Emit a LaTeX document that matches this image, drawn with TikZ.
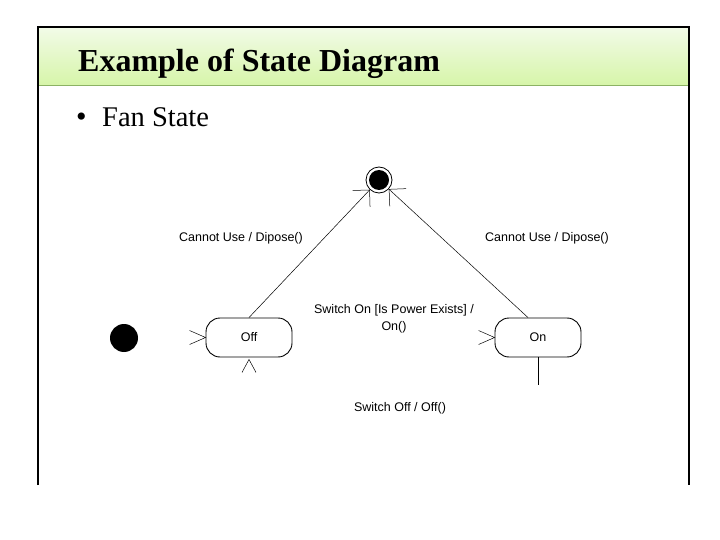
\documentclass[tikz,border=0pt]{standalone}
\usepackage{fontspec}
\setmainfont{Liberation Serif}
\newfontfamily\diagfont{Liberation Sans}
\usepackage{tikz}
\usetikzlibrary{arrows.meta}
\usetikzlibrary{calc}

\definecolor{bandtop}{RGB}{242,251,232}
\definecolor{bandbot}{RGB}{214,245,168}
\definecolor{bandline}{RGB}{140,178,100}

\begin{document}
\begin{tikzpicture}[
  x=1pt, y=-1pt,
  state/.style={draw, rounded corners=14pt, minimum width=86pt, minimum height=39pt,
    line width=0.9pt, font=\diagfont\fontsize{12.5}{14}\selectfont},
  lbl/.style={font=\diagfont\fontsize{12.5}{17}\selectfont, align=center, inner sep=0pt},
  barb/.style={line width=0.5pt, -{Straight Barb[length=12pt, width=24pt, line width=0.5pt]}}
]
  \useasboundingbox (0,0) rectangle (720,540);
  \fill[white] (0,0) rectangle (720,540);

  % slide frame and title band
  \shade[top color=bandtop, bottom color=bandbot] (38,27) rectangle (689,86);
  \draw[bandline, line width=1pt] (38,86) -- (689,86);
  \draw[line width=2.6pt] (38,485) -- (38,27) -- (689,27) -- (689,485);

  \node[anchor=base west, inner sep=0pt, font=\bfseries\fontsize{32}{38}\selectfont] (title) at (78,72) {Example of State Diagram};
  \node[inner sep=0pt, font=\fontsize{30}{34}\selectfont] (bullet) at (81.5,120) {\textbullet};
  \node[anchor=base west, inner sep=0pt, font=\fontsize{28.5}{34}\selectfont] (fan) at (102,127) {Fan State};

  % states
  \node[circle, fill=black, minimum size=28pt, inner sep=0pt] (ini) at (124,338) {};
  \node[circle, draw, line width=0.8pt, minimum size=26pt, inner sep=0pt] (fin) at (379,180) {};
  \fill (fin) circle (10);
  \node[state] (off) at (249,337.5) {Off};
  \node[state] (on)  at (538,337.5) {On};

  % transitions
  \draw[barb] (off.north) -- (fin);
  \draw[barb] ([xshift=-10pt]on.north) -- (fin);
  \draw[line width=0.9pt] (on.south) -- ++(0,28);

  % loose arrow heads
  \draw[line width=0.5pt] ($(off.west)+(-16,-7)$) -- (off.west) -- ++(-16,7);
  \draw[line width=0.5pt] ($(on.west)+(-16,-7)$) -- (on.west) -- ++(-16,7);
  \draw[line width=0.5pt] ($(off.south)+(-7,15)$) -- ($(off.south)+(0,2)$) -- ++(7,13);

  % labels
  \node[lbl] (cuL) at (241,238) {Cannot Use / Dipose()};
  \node[lbl] (cuR) at (547,238) {Cannot Use / Dipose()};
  \node[lbl] (swOn) at (394,318.5) {Switch On [Is Power Exists] /\\On()};
  \node[lbl] (swOff) at (400,408) {Switch Off / Off()};
\end{tikzpicture}
\end{document}
